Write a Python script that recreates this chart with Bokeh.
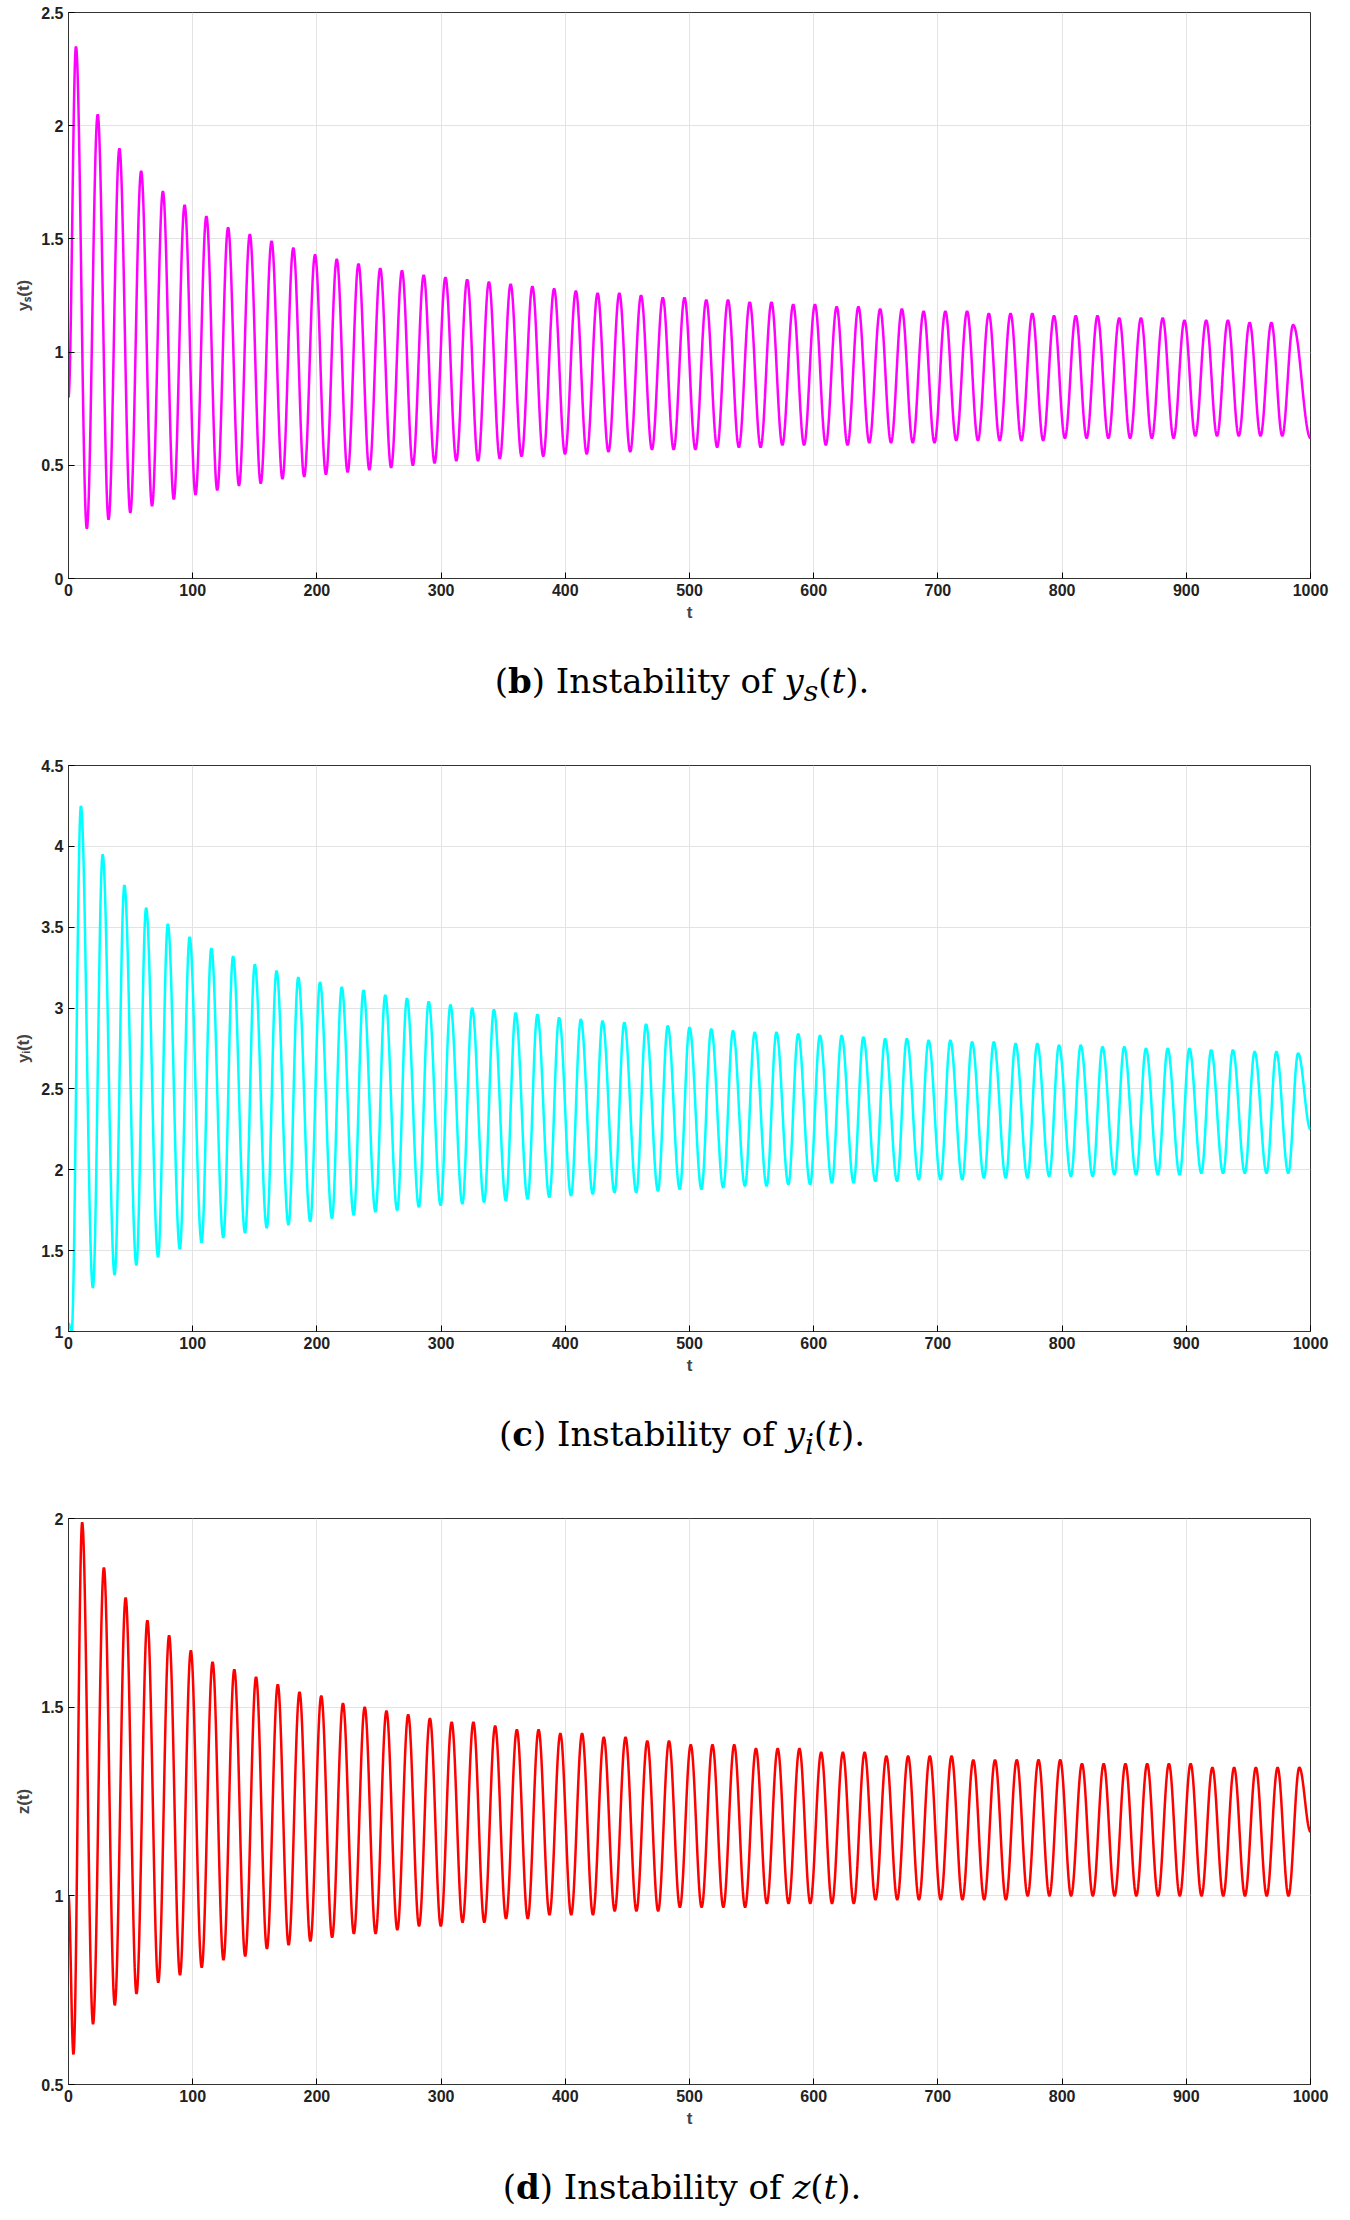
import numpy as np
from bokeh.plotting import figure
from bokeh.layouts import column
from bokeh.models import Div, Range1d
from bokeh.embed import file_html
from bokeh.resources import INLINE

x_ticks = list(range(0, 1001, 100))
PERIOD = 17.5

ys_start = (0.0, 0.8)
ys_first_peak = 6.0
ys_peaks = [2.35, 2.05, 1.9, 1.8, 1.71, 1.65, 1.6, 1.55, 1.52, 1.49, 1.46, 1.43, 1.41, 1.39, 1.37, 1.36, 1.34, 1.33, 1.32, 1.31, 1.30, 1.29, 1.28, 1.27, 1.26, 1.26, 1.25, 1.24, 1.24, 1.23, 1.23, 1.22, 1.22, 1.21, 1.21, 1.20, 1.20, 1.19, 1.19, 1.18, 1.18, 1.18, 1.17, 1.17, 1.17, 1.16, 1.16, 1.16, 1.15, 1.15, 1.15, 1.14, 1.14, 1.14, 1.13, 1.13, 1.12]
ys_troughs = [0.22, 0.26, 0.29, 0.32, 0.35, 0.37, 0.39, 0.41, 0.42, 0.44, 0.45, 0.46, 0.47, 0.48, 0.49, 0.50, 0.51, 0.52, 0.52, 0.53, 0.54, 0.54, 0.55, 0.55, 0.56, 0.56, 0.57, 0.57, 0.57, 0.58, 0.58, 0.58, 0.59, 0.59, 0.59, 0.59, 0.60, 0.60, 0.60, 0.60, 0.61, 0.61, 0.61, 0.61, 0.61, 0.62, 0.62, 0.62, 0.62, 0.62, 0.62, 0.63, 0.63, 0.63, 0.63, 0.63]
ys_end = 0.62

yi_start = (0.0, 1.05)
yi_pre = (2.5, 1.0)
yi_first_peak = 10.0
yi_peaks = [4.25, 3.95, 3.76, 3.62, 3.52, 3.44, 3.37, 3.32, 3.27, 3.23, 3.19, 3.16, 3.13, 3.11, 3.08, 3.06, 3.04, 3.02, 3.00, 2.99, 2.97, 2.96, 2.94, 2.93, 2.92, 2.91, 2.90, 2.89, 2.88, 2.87, 2.86, 2.85, 2.85, 2.84, 2.83, 2.83, 2.82, 2.81, 2.81, 2.80, 2.80, 2.79, 2.79, 2.78, 2.78, 2.77, 2.77, 2.76, 2.76, 2.75, 2.75, 2.75, 2.74, 2.74, 2.73, 2.73, 2.72]
yi_troughs = [1.27, 1.35, 1.41, 1.46, 1.51, 1.55, 1.58, 1.61, 1.64, 1.66, 1.68, 1.70, 1.72, 1.74, 1.75, 1.77, 1.78, 1.79, 1.80, 1.81, 1.82, 1.83, 1.84, 1.85, 1.86, 1.86, 1.87, 1.88, 1.88, 1.89, 1.90, 1.90, 1.91, 1.91, 1.92, 1.92, 1.93, 1.93, 1.94, 1.94, 1.94, 1.95, 1.95, 1.95, 1.96, 1.96, 1.96, 1.97, 1.97, 1.97, 1.97, 1.98, 1.98, 1.98, 1.98, 1.98]
yi_end = 2.25

z_start = (0.0, 1.0)
z_pre = (4.0, 0.58)
z_first_peak = 11.0
z_peaks = [1.99, 1.87, 1.79, 1.73, 1.69, 1.65, 1.62, 1.60, 1.58, 1.56, 1.54, 1.53, 1.51, 1.50, 1.49, 1.48, 1.47, 1.46, 1.46, 1.45, 1.44, 1.44, 1.43, 1.43, 1.42, 1.42, 1.41, 1.41, 1.40, 1.40, 1.40, 1.39, 1.39, 1.39, 1.38, 1.38, 1.38, 1.37, 1.37, 1.37, 1.37, 1.36, 1.36, 1.36, 1.36, 1.36, 1.35, 1.35, 1.35, 1.35, 1.35, 1.35, 1.34, 1.34, 1.34, 1.34, 1.34]
z_troughs = [0.66, 0.71, 0.74, 0.77, 0.79, 0.81, 0.83, 0.84, 0.86, 0.87, 0.88, 0.89, 0.90, 0.90, 0.91, 0.92, 0.92, 0.93, 0.93, 0.94, 0.94, 0.95, 0.95, 0.95, 0.96, 0.96, 0.96, 0.97, 0.97, 0.97, 0.97, 0.98, 0.98, 0.98, 0.98, 0.98, 0.99, 0.99, 0.99, 0.99, 0.99, 0.99, 0.99, 1.00, 1.00, 1.00, 1.00, 1.00, 1.00, 1.00, 1.00, 1.00, 1.00, 1.00, 1.00, 1.00]
z_end = 1.17


def build(pre_knots, first_peak, peaks, troughs, end_val, fall_frac):
    knots = list(pre_knots)
    for k, pv in enumerate(peaks):
        tp = first_peak + k * PERIOD
        knots.append((tp, pv))
        if k < len(troughs):
            knots.append((tp + fall_frac * PERIOD, troughs[k]))
    knots.append((1000.0, end_val))
    ts, vs = [], []
    for (t0, v0), (t1, v1) in zip(knots[:-1], knots[1:]):
        s = np.linspace(0, 1, 30, endpoint=False)
        ts.extend(t0 + (t1 - t0) * s)
        vs.extend(v0 + (v1 - v0) * (1 - np.cos(np.pi * s)) / 2)
    ts.append(knots[-1][0]); vs.append(knots[-1][1])
    return ts, vs


FONT = "Liberation Sans"


def make_fig(t, v, color, ylab, y0, y1, ystep):
    p = figure(width=1334, height=640, output_backend="svg", toolbar_location=None,
               min_border_left=68, min_border_right=24, min_border_top=12, min_border_bottom=62,
               x_range=Range1d(0, 1000), y_range=Range1d(y0, y1))
    p.line(t, v, color=color, line_width=2.5)
    p.xaxis.ticker = x_ticks
    yt = list(np.round(np.arange(y0, y1 + 1e-9, ystep), 2))
    p.yaxis.ticker = yt
    p.yaxis.major_label_overrides = {float(x): ("%g" % x) for x in yt}
    p.xaxis.axis_label = "t"
    p.yaxis.axis_label = ylab
    for ax in (p.xaxis, p.yaxis):
        ax.axis_label_text_font = FONT
        ax.axis_label_text_font_style = "bold"
        ax.axis_label_text_font_size = "17px"
        ax.major_label_text_font = FONT
        ax.major_label_text_font_style = "bold"
        ax.major_label_text_font_size = "16px"
        ax.major_label_text_color = "#222222"
        ax.axis_line_color = "#333333"
        ax.major_tick_in = 6
        ax.major_tick_out = 0
        ax.minor_tick_line_color = None
    p.xaxis.axis_label_standoff = 4
    p.grid.grid_line_color = "#e3e3e3"
    p.outline_line_color = "#333333"
    return p


def caption(letter, body):
    return Div(width=1334, height=103,
               text=f'<div style="width:1334px;text-align:center;font-family:\'DejaVu Serif\',serif;'
                    f'font-size:34px;padding-top:12px;padding-left:20px;">(<b>{letter}</b>) Instability of {body}.</div>')


t1, v1 = build([ys_start], ys_first_peak, ys_peaks, ys_troughs, ys_end, 0.5)
t2, v2 = build([yi_start, yi_pre], yi_first_peak, yi_peaks, yi_troughs, yi_end, 0.55)
t3, v3 = build([z_start, z_pre], z_first_peak, z_peaks, z_troughs, z_end, 0.5)

p1 = make_fig(t1, v1, "#ff00ff", "yₛ(t)", 0, 2.5, 0.5)
p2 = make_fig(t2, v2, "#00ffff", "yᵢ(t)", 1, 4.5, 0.5)
p3 = make_fig(t3, v3, "#ff0000", "z(t)", 0.5, 2.0, 0.5)

layout = column(p1, caption("b", "<i>y<sub>s</sub></i>(<i>t</i>)"),
                p2, caption("c", "<i>y<sub>i</sub></i>(<i>t</i>)"),
                p3, caption("d", "<i>z</i>(<i>t</i>)"), spacing=0)

open("out.html", "w").write(file_html(layout, INLINE))
